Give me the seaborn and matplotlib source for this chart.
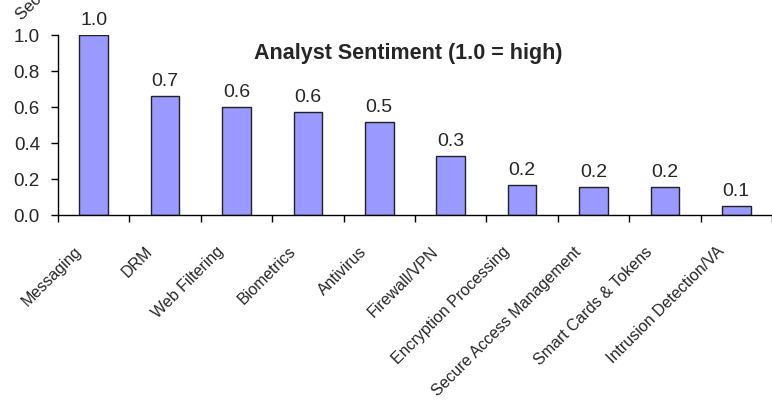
import numpy as np
import pandas as pd
import matplotlib
matplotlib.use("Agg")
import matplotlib.pyplot as plt
import matplotlib.transforms as mtransforms
import seaborn as sns

categories = ["Messaging", "DRM", "Web Filtering", "Biometrics", "Antivirus",
              "Firewall/VPN", "Encryption Processing", "Secure Access Management",
              "Smart Cards & Tokens", "Intrusion Detection/VA"]
sentiment = [1.0, 0.66, 0.60, 0.574, 0.515, 0.33, 0.168, 0.154, 0.154, 0.05]
y_ticks = [0.0, 0.2, 0.4, 0.6, 0.8, 1.0]

df = pd.DataFrame({"segment": categories, "sentiment": sentiment})

sns.set_style("white")
plt.rcParams["font.family"] = ["Liberation Sans", "DejaVu Sans"]

fig = plt.figure(figsize=(7.72, 4.02), dpi=100)
ax = fig.add_axes([58 / 772, 1 - 216 / 402, 714 / 772, 180 / 402])

sns.barplot(data=df, x="segment", y="sentiment", color="#9999FF",
            saturation=1, width=0.4, edgecolor="#222222", linewidth=1.0, ax=ax)

n = len(categories)
ax.set_xlim(-0.5, n - 0.5)
ax.set_ylim(0, 1.0)
ax.set_xlabel("")
ax.set_ylabel("")

# tick marks on category boundaries, labels under bar centres
ax.set_xticks(np.arange(n + 1) - 0.5)
ax.set_xticklabels([])
ax.set_xticks(np.arange(n), minor=True)
ax.set_xticklabels(categories, minor=True, rotation=45, ha="right",
                   rotation_mode="anchor", fontsize=11.5)
ax.tick_params(axis="x", which="major", direction="out", length=5, width=1,
               color="black", bottom=True)
ax.tick_params(axis="x", which="minor", length=0, pad=0)
offset = mtransforms.ScaledTranslation(-20 / 100, -28 / 100, fig.dpi_scale_trans)
for lab in ax.get_xticklabels(minor=True):
    lab.set_transform(lab.get_transform() + offset)

ax.set_yticks(y_ticks)
ax.set_yticklabels([f"{v:.1f}" for v in y_ticks], fontsize=13.5)
ax.tick_params(axis="y", direction="out", length=5, width=1, color="black",
               left=True, pad=8)

for side in ["top", "right"]:
    ax.spines[side].set_visible(False)
for side in ["left", "bottom"]:
    ax.spines[side].set_color("black")
    ax.spines[side].set_linewidth(1.0)

for i, v in enumerate(sentiment):
    ax.annotate(f"{v:.1f}", (i, v), xytext=(0, 5), textcoords="offset points",
                ha="center", va="bottom", fontsize=14)

ax.text(0.49, 0.90, "Analyst Sentiment (1.0 = high)", transform=ax.transAxes,
        ha="center", va="center", fontsize=15.5, fontweight="bold")

# rotated axis title running off the top edge
fig.text(24 / 772, 1 - 23 / 402, "Security Sentiment", rotation=45,
         ha="left", va="bottom", fontsize=12, rotation_mode="anchor")

fig.savefig("out.png", dpi=100)
